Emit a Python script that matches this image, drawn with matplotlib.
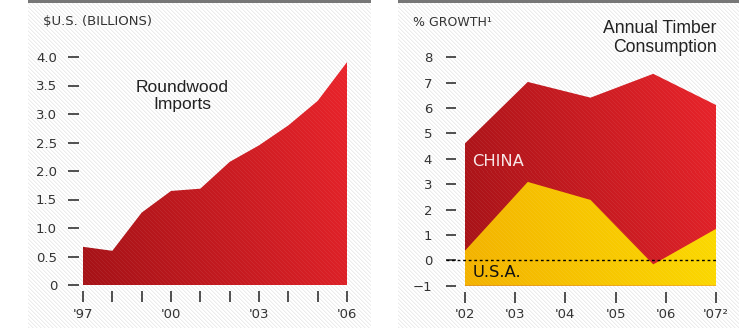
import numpy as np
import matplotlib
matplotlib.use('Agg')
from matplotlib import pyplot as plt
from matplotlib.patches import Rectangle
from matplotlib.colors import to_rgb

# roundwood imports, $US billions
import_years = [1997, 1998, 1999, 2000, 2001, 2002, 2003, 2004, 2005, 2006]
import_values = [0.67, 0.60, 1.27, 1.65, 1.69, 2.16, 2.45, 2.80, 3.23, 3.91]
import_xlabels = ["'97", '', '', "'00", '', '', "'03", '', '', "'06"]
import_yticks = [0, 0.5, 1.0, 1.5, 2.0, 2.5, 3.0, 3.5, 4.0]
import_ylabels = ['0', '0.5', '1.0', '1.5', '2.0', '2.5', '3.0', '3.5', '4.0']

# annual timber consumption growth, %
growth_x = [2002, 2003.25, 2004.5, 2005.75, 2007]
china_growth = [4.61, 7.03, 6.41, 7.35, 6.12]
usa_growth = [0.38, 3.09, 2.38, -0.16, 1.24]
growth_xticks = [2002, 2003, 2004, 2005, 2006, 2007]
growth_xlabels = ["'02", "'03", "'04", "'05", "'06", "'07²"]
growth_yticks = [-1, 0, 1, 2, 3, 4, 5, 6, 7, 8]
growth_ylabels = ['−1', '0', '1', '2', '3', '4', '5', '6', '7', '8']

W, H = 751, 328
TXT = '#333333'
plt.rcParams['font.family'] = ['DejaVu Sans']

fig = plt.figure(figsize=(W / 100, H / 100), dpi=100)


def px_axes(x0, y0, x1, y1, **kw):
    # pixel box (origin top-left) -> figure fractions
    return fig.add_axes([x0 / W, 1 - y1 / H, (x1 - x0) / W, (y1 - y0) / H], **kw)


def stripes(h, w):
    r, c = np.indices((h, w))
    return (c - r) % 4


# hatched panel backgrounds with a grey rule on top
for x0, x1 in [(28, 371), (398, 739)]:
    bg = px_axes(x0, 3, x1, 328, zorder=-5)
    s = stripes(325, x1 - x0)
    img = np.where(s == 0, 0.925, np.where(s == 1, 0.965, 0.997))
    bg.imshow(img, cmap='gray', vmin=0, vmax=1, interpolation='nearest', aspect='auto')
    bg.axis('off')
    fig.add_artist(Rectangle((x0 / W, 1 - 2.5 / H), (x1 - x0) / W, 2.5 / H,
                             transform=fig.transFigure, color='#777777', lw=0))


def gradient_fill(ax, x, base, y, c0, c1, z):
    poly = ax.fill_between(x, base, y, facecolor='none', edgecolor='none', zorder=z)
    w, h = int(round(ax.bbox.width)), int(round(ax.bbox.height))
    r, c = np.indices((h, w))
    t = np.clip(0.8 * c / w + 0.2 * (1 - r / h), 0, 1)[..., None]
    rgb = (1 - t) * np.array(to_rgb(c0)) + t * np.array(to_rgb(c1))
    s = stripes(h, w)[..., None]
    rgb = np.where(s == 0, rgb + (1 - rgb) * 0.06, rgb)
    xl, yl = ax.get_xlim(), ax.get_ylim()
    im = ax.imshow(rgb, extent=[xl[0], xl[1], yl[0], yl[1]], aspect='auto',
                   interpolation='nearest', zorder=z)
    im.set_clip_path(poly.get_paths()[0], transform=ax.transData)
    ax.set_xlim(xl)
    ax.set_ylim(yl)


def style_axis(ax, y_out, y_len, y_pad):
    for side in ['top', 'right']:
        ax.spines[side].set_visible(False)
    ax.spines['left'].set_position(('outward', y_out))
    ax.spines['bottom'].set_position(('outward', 4.3))
    ax.spines['left'].set_color('none')
    ax.spines['bottom'].set_color('none')
    ax.tick_params(axis='y', length=y_len, width=1.2, pad=y_pad, color=TXT,
                   labelcolor=TXT, labelsize=9.5)
    ax.tick_params(axis='x', length=7.9, width=1.2, pad=4, color=TXT,
                   labelcolor=TXT, labelsize=9.5)
    ax.patch.set_visible(False)


# left: roundwood imports
ax1 = px_axes(83, 57, 347, 285)
ax1.set_xlim(1997, 2006)
ax1.set_ylim(0, 4.0)
gradient_fill(ax1, import_years, 0, import_values, '#a51217', '#ea242b', 2)
ax1.set_xticks(import_years)
ax1.set_xticklabels(import_xlabels)
ax1.set_yticks(import_yticks)
ax1.set_yticklabels(import_ylabels)
style_axis(ax1, 2.9, 7.9, 7.9)

# right: timber consumption growth
ax2 = px_axes(465, 57.3, 716, 285.7)
ax2.set_xlim(2002, 2007)
ax2.set_ylim(-1, 8)
gradient_fill(ax2, growth_x, -1, china_growth, '#a51217', '#ea242b', 2)
gradient_fill(ax2, growth_x, -1, usa_growth, '#f3b200', '#fde000', 3)
ax2.axhline(0, xmin=-0.0757, xmax=1, color='black', lw=1, ls=(0, (2, 2)),
            clip_on=False, zorder=5)
ax2.set_xticks(growth_xticks)
ax2.set_xticklabels(growth_xlabels)
ax2.set_yticks(growth_yticks)
ax2.set_yticklabels(growth_ylabels)
style_axis(ax2, 6.5, 7.2, 10)


def ftext(x, y, s, **kw):
    fig.text(x / W, 1 - y / H, s, va='baseline', **kw)


ftext(42.7, 25, '$U.S. (BILLIONS)', fontsize=9.5, color=TXT)
ftext(412.7, 25.7, '% GROWTH¹', fontsize=9, color=TXT)
ftext(182, 92, 'Roundwood', fontsize=12.5, color='#222222', ha='center', family='Liberation Sans')
ftext(182, 109, 'Imports', fontsize=12.5, color='#222222', ha='center', family='Liberation Sans')
ftext(716.7, 33.3, 'Annual Timber', fontsize=12.7, color='#222222', ha='right', family='Liberation Sans')
ftext(716.7, 51.7, 'Consumption', fontsize=12.7, color='#222222', ha='right', family='Liberation Sans')
ftext(472.3, 166, 'CHINA', fontsize=11.8, color='#f6e6e6')
ftext(472.3, 277.3, 'U.S.A.', fontsize=11.8, color='#111111')

fig.savefig('out.png', dpi=100)
